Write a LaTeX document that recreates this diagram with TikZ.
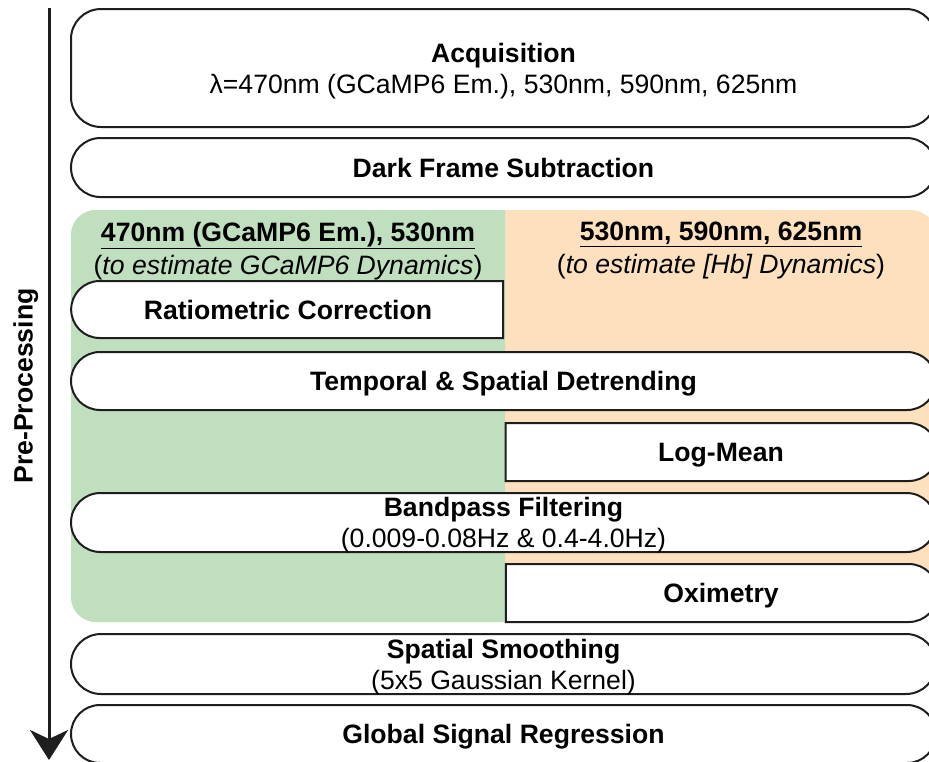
\documentclass[tikz,border=0pt]{standalone}
\usepackage{fontspec}
\setmainfont{Liberation Sans}
\usetikzlibrary{shapes.misc,arrows.meta,positioning}
\definecolor{gcamp}{RGB}{191,223,190}
\definecolor{hb}{RGB}{253,225,190}
\definecolor{ink}{RGB}{30,30,30}

\begin{document}
\begin{tikzpicture}[x=1pt,y=-1pt,
    every node/.style={font=\fontsize{26.6}{31}\selectfont,text depth=0pt,align=center,inner sep=0pt},
    b/.style={draw=ink,line width=2pt,fill=white,rounded rectangle,font=\fontsize{26.6}{31}\selectfont\bfseries},
    wide/.style={b,minimum width=865pt},
    half/.style={b,minimum width=432pt},
    head/.style={font=\fontsize{26.6}{33}\selectfont}]
    \clip (0,0) rectangle (929,761);
    % the two colour channels
    \fill[hb,rounded corners=25pt] (71,210) rectangle (936,622);
    \begin{scope}
      \clip (71,210) rectangle (505,622);
      \fill[gcamp,rounded corners=25pt] (71,210) rectangle (936,622);
    \end{scope}
    \node[head] (ghead) at (288,248) {\underline{\textbf{470nm (GCaMP6 Em.), 530nm}}\\(\textit{to estimate GCaMP6 Dynamics})};
    \node[head] (hhead) at (721,248) {\underline{\textbf{530nm, 590nm, 625nm}}\\(\textit{to estimate [Hb] Dynamics})};
    % steps
    \node[wide,rectangle,rounded corners=30pt,minimum height=118pt] (acq) at (503.5,68) {Acquisition\\\mdseries λ=470nm (GCaMP6 Em.), 530nm, 590nm, 625nm};
    \node[wide,minimum height=59pt] (dark) at (503.5,167.5) {Dark Frame Subtraction};
    \node[half,rounded rectangle right arc=none,minimum height=57pt] (ratio) at (288,309.5) {Ratiometric Correction};
    \node[wide,minimum height=58pt] (detrend) at (503.5,381) {Temporal \& Spatial Detrending};
    \node[half,rounded rectangle left arc=none,minimum height=58pt] (logmean) at (721,452) {Log-Mean};
    \node[wide,minimum height=59pt] (band) at (503.5,522.5) {Bandpass Filtering\\\mdseries(0.009-0.08Hz \& 0.4-4.0Hz)};
    \node[half,rounded rectangle left arc=none,minimum height=58pt] (oxi) at (721,593) {Oximetry};
    \node[wide,minimum height=60pt] (smooth) at (503.5,664) {Spatial Smoothing\\\mdseries(5x5 Gaussian Kernel)};
    \node[wide,minimum height=58pt] (gsr) at (503.5,734) {Global Signal Regression};
    % time axis
    \coordinate (ppTop) at (49,8);
    \coordinate (ppEnd) at (49,760);
    \draw[line width=3pt,draw=ink,-{Stealth[length=30pt,width=38pt,inset=9pt]}] (ppTop) -- (ppEnd);
    \node[font=\fontsize{26.6}{31}\selectfont\bfseries,rotate=90] (pp) at (23,386) {Pre-Processing};
\end{tikzpicture}
\end{document}
